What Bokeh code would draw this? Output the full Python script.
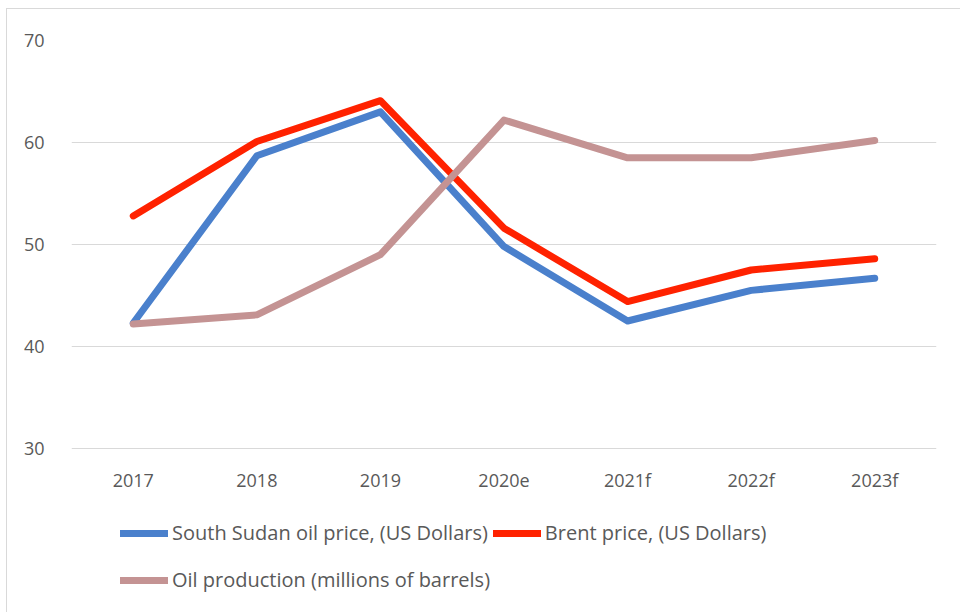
from bokeh.plotting import figure
from bokeh.models import FactorRange, Range1d, Legend, LegendItem, FixedTicker
from bokeh.embed import file_html
from bokeh.resources import INLINE

years = ["2017", "2018", "2019", "2020e", "2021f", "2022f", "2023f"]
south_sudan = [42.3, 58.7, 63.0, 49.8, 42.5, 45.5, 46.7]
brent = [52.8, 60.1, 64.1, 51.6, 44.4, 47.5, 48.6]
production = [42.2, 43.1, 49.0, 62.2, 58.5, 58.5, 60.2]
y_ticks = [30, 40, 50, 60, 70]

FONT = "Open Sans"
GRAY = "#595959"

p = figure(width=954, height=604, x_range=FactorRange(*years), y_range=Range1d(13.82, 70),
           output_backend="svg", toolbar_location=None,
           min_border_left=64, min_border_right=25, min_border_top=31, min_border_bottom=0)
p.styles = {"margin-left": "6px", "margin-top": "8px",
            "border-left": "1px solid #d9d9d9", "border-top": "1px solid #d9d9d9"}
p.outline_line_color = None
p.xgrid.grid_line_color = None
p.ygrid.grid_line_color = "#d9d9d9"
p.ygrid.grid_line_width = 1
p.ygrid.ticker = FixedTicker(ticks=y_ticks)

for ax in (p.xaxis, p.yaxis):
    ax.axis_line_color = None
    ax.major_tick_line_color = None
    ax.minor_tick_line_color = None
    ax.major_label_text_font = FONT
    ax.major_label_text_font_size = "18px"
    ax.major_label_text_color = GRAY
p.yaxis.ticker = FixedTicker(ticks=y_ticks)
p.yaxis.major_label_standoff = 21
p.xaxis.major_label_standoff = 14
p.xaxis.fixed_location = 30

r1 = p.line(years, south_sudan, line_color="#4a80cc", line_width=7, line_cap="round", line_join="round")
r2 = p.line(years, brent, line_color="#ff2200", line_width=7, line_cap="round", line_join="round")
r3 = p.line(years, production, line_color="#c49393", line_width=7, line_cap="round", line_join="round")

def make_legend(items, loc):
    return Legend(items=items, location=loc, orientation="horizontal",
                  label_text_font=FONT, label_text_font_size="20px", label_text_color=GRAY,
                  glyph_width=48, glyph_height=20, label_height=20, label_standoff=4,
                  spacing=5, padding=0, margin=0, border_line_color=None,
                  background_fill_alpha=0)

lg1 = make_legend([LegendItem(label="South Sudan oil price, (US Dollars)", renderers=[r1]),
                   LegendItem(label="Brent price, (US Dollars)", renderers=[r2])], (49, 67))
lg2 = make_legend([LegendItem(label="Oil production (millions of barrels)", renderers=[r3])], (49, 20))
p.add_layout(lg1, "center")
p.add_layout(lg2, "center")

open("out.html", "w").write(file_html(p, INLINE))
